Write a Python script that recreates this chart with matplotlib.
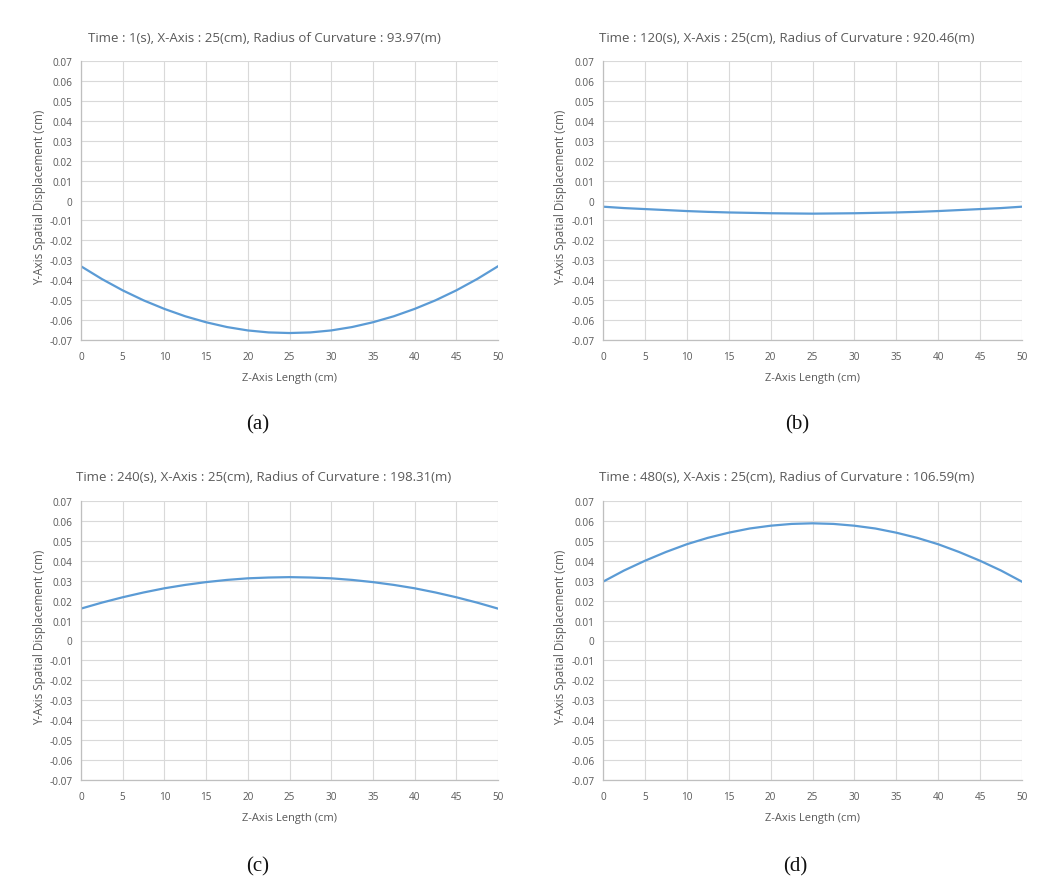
import matplotlib
matplotlib.use("Agg")
import matplotlib.pyplot as plt
import numpy as np

W, H = 1058, 895

z_a = [0, 2.5, 5, 7.5, 10, 12.5, 15, 17.5, 20, 22.5, 25, 27.5, 30, 32.5, 35, 37.5, 40, 42.5, 45, 47.5, 50]
y_a = [-0.0330, -0.0394, -0.0451, -0.0501, -0.0544, -0.0581, -0.0611, -0.0635, -0.0652, -0.0662, -0.0665,
       -0.0662, -0.0652, -0.0635, -0.0611, -0.0581, -0.0544, -0.0501, -0.0451, -0.0394, -0.0330]

z_b = [0, 2.5, 5, 7.5, 10, 12.5, 15, 17.5, 20, 22.5, 25, 27.5, 30, 32.5, 35, 37.5, 40, 42.5, 45, 47.5, 50]
y_b = [-0.0031, -0.0038, -0.0043, -0.0048, -0.0053, -0.0057, -0.0060, -0.0062, -0.0064, -0.0065, -0.0066,
       -0.0065, -0.0064, -0.0062, -0.0060, -0.0057, -0.0053, -0.0048, -0.0043, -0.0038, -0.0031]

z_c = [0, 2.5, 5, 7.5, 10, 12.5, 15, 17.5, 20, 22.5, 25, 27.5, 30, 32.5, 35, 37.5, 40, 42.5, 45, 47.5, 50]
y_c = [0.0160, 0.0190, 0.0217, 0.0241, 0.0262, 0.0279, 0.0293, 0.0304, 0.0312, 0.0316, 0.0318,
       0.0316, 0.0312, 0.0304, 0.0293, 0.0279, 0.0262, 0.0241, 0.0217, 0.0190, 0.0160]

z_d = [0, 2.5, 5, 7.5, 10, 12.5, 15, 17.5, 20, 22.5, 25, 27.5, 30, 32.5, 35, 37.5, 40, 42.5, 45, 47.5, 50]
y_d = [0.0295, 0.0351, 0.0400, 0.0444, 0.0483, 0.0515, 0.0541, 0.0562, 0.0576, 0.0585, 0.0588,
       0.0585, 0.0576, 0.0562, 0.0541, 0.0515, 0.0483, 0.0444, 0.0400, 0.0351, 0.0295]

titles = [
    "Time : 1(s), X-Axis : 25(cm), Radius of Curvature : 93.97(m)",
    "Time : 120(s), X-Axis : 25(cm), Radius of Curvature : 920.46(m)",
    "Time : 240(s), X-Axis : 25(cm), Radius of Curvature : 198.31(m)",
    "Time : 480(s), X-Axis : 25(cm), Radius of Curvature : 106.59(m)",
]
panel_labels = ["(a)", "(b)", "(c)", "(d)"]
x_ticks = [0, 5, 10, 15, 20, 25, 30, 35, 40, 45, 50]
y_ticks = [-0.07, -0.06, -0.05, -0.04, -0.03, -0.02, -0.01, 0, 0.01, 0.02, 0.03, 0.04, 0.05, 0.06, 0.07]
y_ticklabels = ["-0.07", "-0.06", "-0.05", "-0.04", "-0.03", "-0.02", "-0.01", "0",
                "0.01", "0.02", "0.03", "0.04", "0.05", "0.06", "0.07"]

series = [(z_a, y_a), (z_b, y_b), (z_c, y_c), (z_d, y_d)]
# pixel boxes: left, top, right, bottom
boxes = [(81, 62, 498, 341), (603, 62, 1022, 341), (81, 502, 498, 781), (603, 502, 1022, 781)]
title_pos = [(264, 38), (787, 38), (264, 478), (787, 478)]
label_pos = [(258, 425), (797, 425), (258, 867), (795, 867)]

plt.rcParams['font.family'] = ['Open Sans', 'DejaVu Sans']
fig = plt.figure(figsize=(W / 100, H / 100), dpi=100)
fig.patch.set_facecolor('white')

gray_txt = '#595959'
for i, ((zs, ys), (l, t, r, b)) in enumerate(zip(series, boxes)):
    ax = fig.add_axes([l / W, 1 - b / H, (r - l) / W, (b - t) / H])
    ax.plot(zs, ys, color='#5b9bd5', lw=1.6)
    ax.set_xlim(0, 50)
    ax.set_ylim(-0.07, 0.07)
    ax.set_xticks(x_ticks)
    ax.set_xticklabels([str(v) for v in x_ticks])
    ax.set_yticks(y_ticks)
    ax.set_yticklabels(y_ticklabels)
    ax.grid(True, color='#d9d9d9', lw=0.8)
    ax.set_axisbelow(True)
    for s in ['top', 'right']:
        ax.spines[s].set_visible(False)
    for s in ['left', 'bottom']:
        ax.spines[s].set_color('#bfbfbf')
        ax.spines[s].set_linewidth(0.9)
    ax.tick_params(axis='y', length=0, labelsize=7.2, colors=gray_txt, pad=6)
    ax.tick_params(axis='x', length=0, labelsize=7.2, colors=gray_txt, pad=8)
    ax.set_xlabel("Z-Axis Length (cm)", fontsize=8, color=gray_txt, labelpad=7)
    ax.set_ylabel("Y-Axis Spatial Displacement (cm)", fontsize=8.4, color=gray_txt)
    ax.yaxis.set_label_coords(-0.085, 0.515)
    tx, ty = title_pos[i]
    fig.text(tx / W, 1 - ty / H, titles[i], ha='center', va='center', fontsize=9.5, color=gray_txt)
    lx, ly = label_pos[i]
    fig.text(lx / W, 1 - ly / H, panel_labels[i], ha='center', va='center',
             fontsize=15, family=['Liberation Serif', 'DejaVu Serif'], color='#111111')

fig.savefig("out.png", dpi=100, facecolor='white')
